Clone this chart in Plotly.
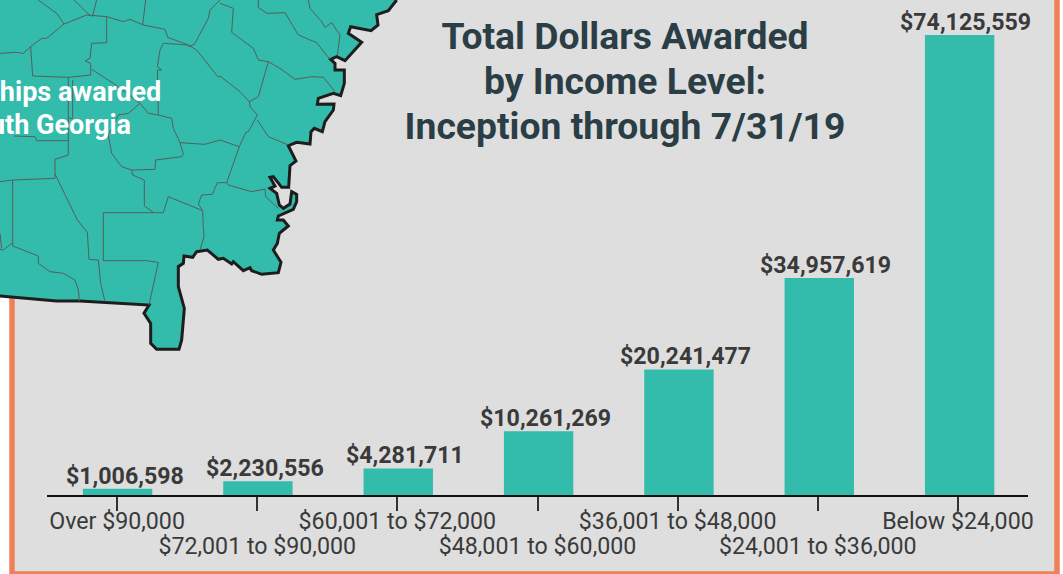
import plotly.graph_objects as go

W, H = 1063, 574
income_levels = ["Over $90,000", "$72,001 to $90,000", "$60,001 to $72,000", "$48,001 to $60,000",
                 "$36,001 to $48,000", "$24,001 to $36,000", "Below $24,000"]
dollars = [1006598, 2230556, 4281711, 10261269, 20241477, 34957619, 74125559]
title_lines = ["Total Dollars Awarded", "by Income Level:", "Inception through 7/31/19"]

# Map decoration, traced at 3x picture scale
coast = [(1190,0),(1165,32),(1130,44),(1134,75),(1113,92),(1052,80),(1045,100),(1085,127),(1035,182),(1010,170),(992,178),
 (1005,190),(1005,210),(1033,210),(1033,250),(1022,287),(1000,280),(955,295),(952,313),(1002,312),(1000,330),(975,365),
 (967,395),(943,385),(933,395),(930,432),(890,427),(865,437),(888,483),(870,497),(866,562),(845,562),(820,530),(810,532),
 (825,558),(810,565),(830,580),(838,615),(850,625),(870,612),(875,575),(890,583),(890,605),(880,628),(835,648),(832,660),
 (850,660),(865,678),(838,700),(832,730),(820,750),(843,787),(835,818),(785,823),(755,812),(750,803),(730,812),(700,785),
 (695,792),(670,775),(655,778),(622,750),(590,755),(578,772),(552,768),(550,790),(535,800),(535,860),(553,925),(545,1020),
 (537,1048),(470,1048),(452,1030),(452,970),(432,940),(447,915),(240,903),(170,903),(-30,885),(-30,-30),(1190,-30),(1190,0)]
counties = [
 [(115,0),(170,40),(192,72)], [(222,0),(272,48)], [(290,0),(277,50)],
 [(192,72),(260,45),(320,50),(370,65),(390,58),(430,75),(495,88),(503,112),(565,135)],
 [(437,0),(428,75)],
 [(320,50),(320,128),(275,130),(270,175),(255,183),(272,190),(272,225),(205,232),(98,228),(92,140)],
 [(0,160),(45,157),(70,160),(92,140),(125,115),(140,115),(192,72)],
 [(660,0),(630,30),(625,55),(600,100),(583,133),(565,140)],
 [(660,10),(700,25),(695,97),(760,145),(775,180),(805,185)],
 [(805,185),(775,290),(748,305),(720,275),(660,228),(655,232),(590,150),(565,135)],
 [(775,0),(775,22),(800,40),(855,38),(895,105),(950,128),(990,178)],
 [(925,0),(930,25),(965,65),(975,82),(995,68),(1020,105),(1012,165)],
 [(805,185),(840,205),(885,238),(935,230),(970,232),(1005,275)],
 [(748,305),(750,320),(772,345),(745,395),(737,398),(718,440),(660,420),(615,433),(540,428),(520,385),(515,355),(475,345),
  (472,210),(485,210),(472,200),(480,150),(490,130),(565,135)],
 [(275,208),(340,250),(420,310),(445,340),(475,345)],
 [(420,310),(385,340),(355,345),(325,405),(335,460),(365,500),(395,510),(465,508),(467,480),(545,470),(550,462),(540,428)],
 [(205,232),(205,465),(165,478),(165,535),(40,540),(0,545)],
 [(218,240),(218,355),(205,355)],
 [(395,510),(398,525),(433,540),(433,618),(460,637)],
 [(165,522),(232,660),(262,697),(267,778),(295,780),(302,850),(315,905)],
 [(310,638),(490,638),(505,590),(608,632),(610,680),(612,710),(600,750)],
 [(310,638),(310,782),(440,782),(475,787),(447,915)],
 [(718,440),(680,548),(652,548),(637,583),(605,585),(595,612),(608,632)],
 [(680,548),(685,555),(755,575),(795,567),(797,590),(835,625)],
 [(772,360),(805,410),(865,435)],
 [(38,540),(38,728),(10,750),(0,748)],
 [(38,728),(38,738),(115,768),(115,790),(150,815),(190,820),(225,840),(235,870),(238,903)],
 [(42,408),(105,410),(110,422),(205,422)],
 [(0,700),(5,745)],
]

def xs(pts): return [p[0] / 3 for p in pts]
def ys(pts): return [p[1] / 3 for p in pts]

cx, cy = [], []
for c in counties:
    cx += xs(c) + [None]
    cy += ys(c) + [None]

TEAL = "#33bbab"
INK = "#3a3a3a"
BAR_W = 0.495
fig = go.Figure()
fig.add_trace(go.Bar(x=income_levels, y=dollars, marker_color=TEAL, marker_line_width=0, width=BAR_W,
                     offset=[-BAR_W / 2 + (0.5 + 0.2 * i) / 140 for i in range(len(dollars))],
                     showlegend=False, hoverinfo="skip"))
fig.add_trace(go.Scatter(x=xs(coast), y=ys(coast), xaxis="x2", yaxis="y2", mode="lines", fill="toself",
                         fillcolor=TEAL, line=dict(color="#1d1d1d", width=3), showlegend=False, hoverinfo="skip"))
fig.add_trace(go.Scatter(x=cx, y=cy, xaxis="x2", yaxis="y2", mode="lines",
                         line=dict(color="#565f5e", width=1), showlegend=False, hoverinfo="skip"))

ticktext = [('' if i % 2 == 0 else '<br>') + f'<span style="font-size:23.2px">{t}</span>'
            for i, t in enumerate(income_levels)]
title_text = "<br>".join(f'<span style="font-size:37.3px">{t}</span>' for t in title_lines)
value_labels = [
    dict(text=f"${v:,}", x=c, y=v, xref="x", yref="y", xanchor="center", yanchor="bottom", xshift=8, yshift=-3,
         showarrow=False, font=dict(family="Roboto", size=23.2, color=INK, weight=700))
    for c, v in zip(income_levels, dollars)
]
map_labels = [
    dict(text="ships awarded", x=163, y=92, xref="x2", yref="y2", xanchor="right",
         yanchor="middle", showarrow=False, font=dict(family="Roboto", size=27, color="white", weight=700)),
    dict(text="uth Georgia", x=133, y=125, xref="x2", yref="y2", xanchor="right",
         yanchor="middle", showarrow=False, font=dict(family="Roboto", size=27, color="white", weight=700)),
]
fig.update_layout(
    width=W, height=H, margin=dict(l=0, r=0, t=0, b=0, autoexpand=False), autosize=False,
    paper_bgcolor="white", plot_bgcolor="rgba(0,0,0,0)", bargap=0.5,
    title=dict(text=title_text,
               font=dict(family="Roboto", size=34.6, color="#2b3e46", weight=700),
               x=625 / W, xanchor="center", xref="paper", y=1 - 49 / H, yanchor="top", yref="paper",
               automargin=False),
    xaxis=dict(domain=[47 / W, 1028 / W], type="category", categoryorder="array", categoryarray=income_levels,
               tickmode="array", tickvals=income_levels, ticktext=ticktext, tickangle=0,
               showline=True, linecolor="#111", linewidth=1.5, ticks="outside", ticklen=14, tickwidth=1.5,
               tickcolor="#333", tickfont=dict(family="Roboto", size=19.2, color=INK), showgrid=False,
               zeroline=False, anchor="y", range=[-0.5, 6.5], ticklabelstandoff=-5),
    yaxis=dict(domain=[1 - 495 / H, 1 - 35 / H], range=[0, max(dollars)], visible=False, anchor="x"),
    xaxis2=dict(domain=[0, 1], range=[0, W], visible=False, anchor="y2"),
    yaxis2=dict(domain=[0, 1], range=[H, 0], visible=False, anchor="x2"),
    shapes=[dict(type="rect", xref="paper", yref="paper", x0=12 / W, x1=1057 / W, y0=1 - 574 / H, y1=1 + 10 / H,
                 fillcolor="#dedede", line=dict(color="#ef8059", width=5.5), layer="below")],
    annotations=value_labels + map_labels,
)
fig.write_html("out.html", config={"displayModeBar": False},
               post_script="document.body.style.margin='0';document.body.style.overflow='hidden';")
